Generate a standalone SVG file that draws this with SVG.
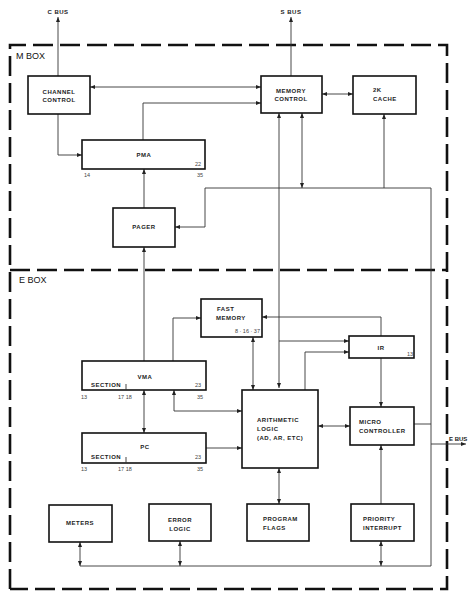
<svg xmlns="http://www.w3.org/2000/svg" width="469" height="600" viewBox="0 0 469 600">
<defs>
<marker id="a" markerUnits="userSpaceOnUse" markerWidth="6" markerHeight="5" refX="5" refY="2.5" orient="auto-start-reverse"><path d="M0,0.5 L5,2.5 L0,4.5 z" fill="#222"/></marker>
<style>
.bx{fill:#fff;stroke:#111;stroke-width:1.6}
.c{fill:none;stroke:#333;stroke-width:0.9}
.e{marker-end:url(#a)}
.b{marker-start:url(#a);marker-end:url(#a)}
.t{font-family:"Liberation Sans",Arial,sans-serif;font-size:6px;letter-spacing:0.5px;fill:#222;font-weight:bold}
.m{text-anchor:middle}
.n{font-family:"Liberation Sans",Arial,sans-serif;font-size:5.5px;fill:#444}
.lb{font-family:"Liberation Sans",Arial,sans-serif;font-size:9px;fill:#111}
.d{fill:none;stroke:#111;stroke-width:2.6;stroke-dasharray:20 7}
</style>
</defs>
<g id="frame">
<path class="d" d="M10,589 V45 H447 V589 H10"/>
<path class="d" d="M10,270 H447"/>
<text class="lb" x="16" y="59">M BOX</text>
<text class="lb" x="19" y="283">E BOX</text>
</g>
<g id="connectors">
<path class="c e" d="M58,76 V17"/>
<path class="c e" d="M291,76 V17"/>
<path class="c b" d="M261,87 H90"/>
<path class="c e" d="M143,140 V103 H261"/>
<path class="c e" d="M58,114 V155 H82"/>
<path class="c b" d="M322,94 H353"/>
<path class="c e" d="M144,208 V169"/>
<path class="c e" d="M144,361 V247"/>
<path class="c e" d="M384,188 V114"/>
<path class="c e" d="M80,566 H431 V188 H205 V227 H175"/>
<path class="c b" d="M302,188 V113"/>
<path class="c b" d="M279,388 V113"/>
<path class="c e" d="M279,341 H349"/>
<path class="c e" d="M381,336 V317 H262"/>
<path class="c e" d="M173,361 V318 H201"/>
<path class="c b" d="M253,337 V390"/>
<path class="c e" d="M305,390 V352 H349"/>
<path class="c e" d="M381,358 V407"/>
<path class="c b" d="M318,426 H350"/>
<path class="c" d="M414,424 H431"/>
<path class="c e" d="M431,444 H466"/>
<path class="c b" d="M144,390 V433"/>
<path class="c b" d="M174,390 V411 H242"/>
<path class="c e" d="M206,448 H242"/>
<path class="c b" d="M279,468 V504"/>
<path class="c e" d="M381,504 V445"/>
<path class="c b" d="M381,541 V566"/>
<path class="c b" d="M80,542 V566"/>
<path class="c b" d="M180,541 V566"/>
<text class="t m" x="58" y="14">C BUS</text>
<text class="t m" x="291" y="14">S BUS</text>
<text class="t" x="449" y="441" style="letter-spacing:0">E BUS</text>
</g>
<g id="channel-control">
<rect class="bx" x="28" y="76" width="62" height="38"/>
<text class="t m" x="59" y="94">CHANNEL</text>
<text class="t m" x="59" y="102">CONTROL</text>
</g>
<g id="memory-control">
<rect class="bx" x="261" y="76" width="61" height="37"/>
<text class="t m" x="291" y="93">MEMORY</text>
<text class="t m" x="291" y="101">CONTROL</text>
</g>
<g id="cache">
<rect class="bx" x="353" y="76" width="63" height="38"/>
<text class="t" x="373" y="92">2K</text>
<text class="t" x="373" y="101">CACHE</text>
</g>
<g id="pma">
<rect class="bx" x="82" y="140" width="123" height="29"/>
<text class="t m" x="144" y="157">PMA</text>
<text class="n m" x="198" y="166">22</text>
<text class="n m" x="87" y="177">14</text>
<text class="n m" x="200" y="177">35</text>
</g>
<g id="pager">
<rect class="bx" x="113" y="208" width="62" height="39"/>
<text class="t m" x="144" y="229">PAGER</text>
</g>
<g id="fast-memory">
<rect class="bx" x="201" y="299" width="61" height="38"/>
<text class="t" x="217" y="311">FAST</text>
<text class="t" x="216" y="320">MEMORY</text>
<text class="n" x="260" y="333" text-anchor="end">8 · 16 · 37</text>
</g>
<g id="ir">
<rect class="bx" x="349" y="336" width="65" height="22"/>
<text class="t m" x="381" y="350">IR</text>
<text class="n m" x="410" y="356">13</text>
</g>
<g id="vma">
<rect class="bx" x="82" y="361" width="124" height="29"/>
<text class="t m" x="145" y="379">VMA</text>
<text class="t" x="91" y="387">SECTION</text>
<path class="c" d="M126,384 V390"/>
<text class="n m" x="198" y="387">23</text>
<text class="n m" x="84" y="399">13</text>
<text class="n" x="118" y="399">17 18</text>
<text class="n m" x="200" y="399">35</text>
</g>
<g id="pc">
<rect class="bx" x="82" y="433" width="124" height="30"/>
<text class="t m" x="145" y="449">PC</text>
<text class="t" x="91" y="459">SECTION</text>
<path class="c" d="M126,457 V463"/>
<text class="n m" x="198" y="459">23</text>
<text class="n m" x="84" y="471">13</text>
<text class="n" x="118" y="471">17 18</text>
<text class="n m" x="200" y="471">35</text>
</g>
<g id="arithmetic-logic">
<rect class="bx" x="242" y="390" width="76" height="78"/>
<text class="t" x="257" y="422">ARITHMETIC</text>
<text class="t" x="257" y="431">LOGIC</text>
<text class="t" x="257" y="440">(AD, AR, ETC)</text>
</g>
<g id="micro-controller">
<rect class="bx" x="350" y="407" width="64" height="38"/>
<text class="t" x="359" y="424">MICRO</text>
<text class="t" x="359" y="433">CONTROLLER</text>
</g>
<g id="meters">
<rect class="bx" x="49" y="505" width="63" height="37"/>
<text class="t m" x="80" y="525">METERS</text>
</g>
<g id="error-logic">
<rect class="bx" x="149" y="504" width="62" height="37"/>
<text class="t m" x="180" y="522">ERROR</text>
<text class="t m" x="180" y="531">LOGIC</text>
</g>
<g id="program-flags">
<rect class="bx" x="247" y="504" width="62" height="37"/>
<text class="t" x="263" y="521">PROGRAM</text>
<text class="t" x="263" y="530">FLAGS</text>
</g>
<g id="priority-interrupt">
<rect class="bx" x="351" y="504" width="63" height="37"/>
<text class="t" x="363" y="521">PRIORITY</text>
<text class="t" x="363" y="530">INTERRUPT</text>
</g>
</svg>
